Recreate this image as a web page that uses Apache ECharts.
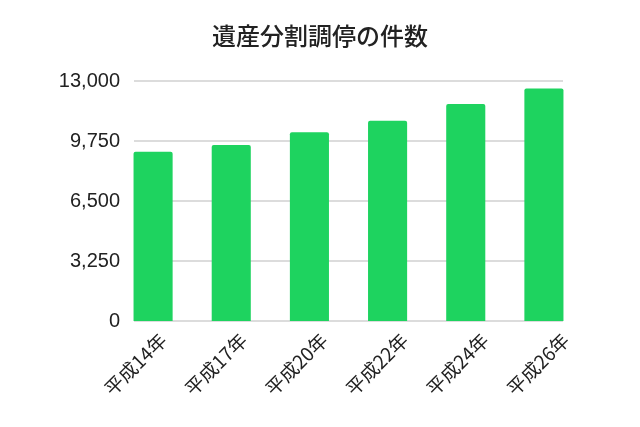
<!DOCTYPE html>
<html><head><meta charset="utf-8">
<script src="https://cdn.jsdelivr.net/npm/echarts@6/dist/echarts.min.js"></script>
<style>html,body{margin:0;padding:0;background:#fff}#c{width:640px;height:427px}</style>
</head><body><div id="c"></div>
<script>
const title = "遺産分割調停の件数";
const categories = ["平成14年","平成17年","平成20年","平成22年","平成24年","平成26年"];
const values = [9170, 9530, 10220, 10850, 11750, 12600];
const yTicks = [0, 3250, 6500, 9750, 13000];

const chart = echarts.init(document.getElementById('c'), null, {renderer:'canvas'});
const yMax = yTicks[yTicks.length-1];
const yInt = yTicks[1]-yTicks[0];
chart.setOption({
  animation:false,
  backgroundColor:'#fff',
  title:{text:title,left:'center',top:19,textStyle:{fontFamily:'Noto Sans CJK JP',fontSize:24,fontWeight:500,color:'#222'}},
  grid:[
    {left:114,right:57,top:81,bottom:106},
    {left:134,right:77,top:81,bottom:106},
    {left:116,right:41,top:81,bottom:106}
  ],
  xAxis:[
    {type:'category',gridIndex:0,data:categories,
     axisLine:{show:false},axisTick:{show:false},axisLabel:{show:false}},
    {type:'value',gridIndex:1,show:false,min:0,max:1},
    {type:'category',gridIndex:2,data:categories,
     axisLine:{show:false},axisTick:{show:false},
     axisLabel:{rotate:45,fontSize:19,color:'#222',margin:9,verticalAlign:'top',fontFamily:'Noto Sans CJK JP'}}
  ],
  yAxis:[
    {type:'value',gridIndex:0,min:0,max:yMax,interval:yInt,show:false,splitLine:{show:false}},
    {type:'value',gridIndex:1,min:0,max:yMax,interval:yInt,
     axisLine:{show:false},axisTick:{show:false},
     axisLabel:{fontSize:20,color:'#222',margin:14,fontFamily:'Liberation Sans',
       formatter:v=>v.toLocaleString('en-US')},
     splitLine:{lineStyle:{color:'#d0d0d0',width:1.5}}},
    {type:'value',gridIndex:2,show:false,min:0,max:1}
  ],
  series:[
    {type:'bar',xAxisIndex:0,yAxisIndex:0,data:values,barWidth:'50%',z:3,
     itemStyle:{color:'#1ed35f',borderRadius:[2,2,0,0]}}
  ]
});
</script></body></html>
